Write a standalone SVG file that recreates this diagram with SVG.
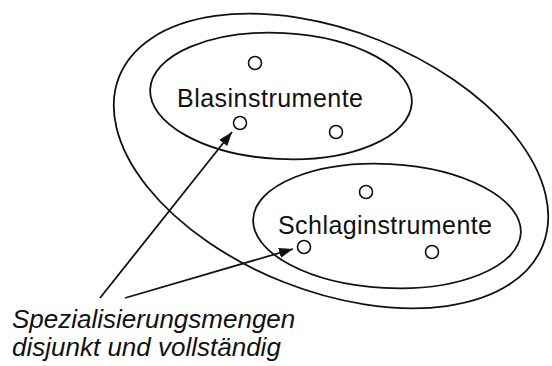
<svg xmlns="http://www.w3.org/2000/svg" width="552" height="366" viewBox="0 0 552 366">
<style>
.e{fill:none;stroke:#111;stroke-width:1.8}
.c{fill:#fff;stroke:#111;stroke-width:1.6}
.t{font-family:"Liberation Sans",Arial,sans-serif;font-size:25px;fill:#111}
.i{font-family:"Liberation Sans",Arial,sans-serif;font-size:26px;font-style:italic;fill:#111}
.a{fill:none;stroke:#111;stroke-width:1.8}
</style>
<defs>
<marker id="ah" markerUnits="userSpaceOnUse" markerWidth="16" markerHeight="12" refX="14" refY="6" orient="auto">
<path d="M0,1 L14,6 L0,11 Z" fill="#111"/>
</marker>
</defs>
<rect width="552" height="366" fill="#fff"/>
<g id="alle">
<ellipse class="e" cx="331" cy="161" rx="228" ry="130" transform="rotate(21.7 331 161)"/>
</g>
<g id="blasinstrumente">
<ellipse class="e" cx="281" cy="96" rx="131" ry="63" transform="rotate(3 281 96)"/>
<circle class="c" cx="255" cy="63" r="6.5"/>
<circle class="c" cx="240" cy="123" r="6.5"/>
<circle class="c" cx="336" cy="132" r="6.5"/>
<text class="t" x="270" y="107" text-anchor="middle" textLength="186">Blasinstrumente</text>
</g>
<g id="schlaginstrumente">
<ellipse class="e" cx="387" cy="226" rx="134" ry="62" transform="rotate(3 387 226)"/>
<circle class="c" cx="366" cy="192" r="6.5"/>
<circle class="c" cx="304" cy="247" r="6.5"/>
<circle class="c" cx="432" cy="252" r="6.5"/>
<text class="t" x="385" y="234" text-anchor="middle" textLength="214">Schlaginstrumente</text>
</g>
<g id="connectors">
<line class="a" x1="100" y1="298" x2="232" y2="132" marker-end="url(#ah)"/>
<line class="a" x1="125" y1="298" x2="293" y2="249" marker-end="url(#ah)"/>
</g>
<g id="label">
<text class="i" x="12" y="328">Spezialisierungsmengen</text>
<text class="i" x="12" y="356">disjunkt und vollständig</text>
</g>
</svg>
